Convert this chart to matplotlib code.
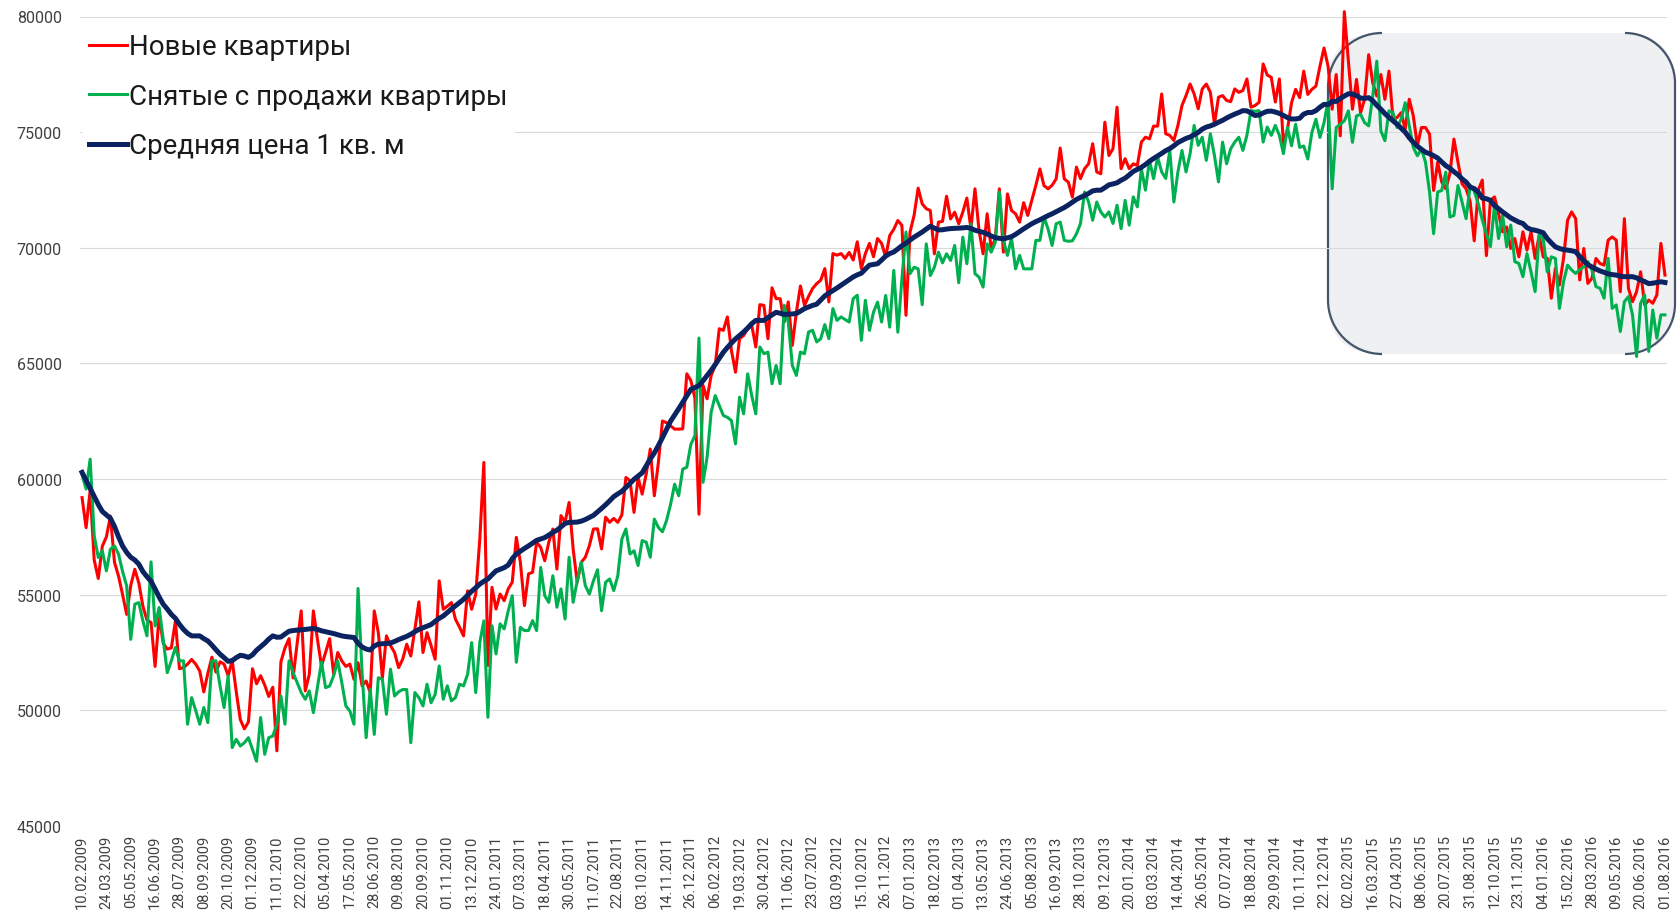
import numpy as np
import pandas as pd
import matplotlib
matplotlib.use('Agg')
import matplotlib.pyplot as plt
from matplotlib.patches import FancyBboxPatch, PathPatch
from matplotlib.path import Path
from matplotlib.transforms import Affine2D

plt.rcParams['font.family'] = ['Roboto', 'DejaVu Sans']

W, H = 1677, 912

# weekly dates (shift from tuesdays to mondays after new year 2010)
dates = list(pd.date_range('2009-02-10', '2009-12-29', freq='7D')) + \
        list(pd.date_range('2010-01-04', '2016-08-01', freq='7D'))

labels = ['Новые квартиры', 'Снятые с продажи квартиры', 'Средняя цена 1 кв. м']

new_flats = [
    59200, 57900, 59500, 56500, 55700, 57100, 57500, 58400, 56400, 55800,
    55000, 54150, 55400, 56100, 55500, 54500, 53900, 53800, 51900, 54100,
    52900, 52650, 52700, 53850, 51800, 51850, 52000, 52200, 52000, 51700,
    50800, 51600, 52300, 51650, 52100, 52000, 51500, 52150, 50800, 49600,
    49200, 49500, 51800, 51150, 51500, 51100, 50600, 51000, 48250, 52100,
    52700, 53100, 51400, 52900, 54300, 50840, 51560, 54300, 53070, 51920,
    52500, 53100, 51560, 52500, 52140, 51900, 52000, 51340, 52060, 51060,
    51270, 50770, 54300, 53360, 51410, 53220, 52800, 52500, 51850, 52210,
    52860, 52350, 53500, 54690, 52500, 53360, 52800, 52210, 55600, 54370,
    54500, 54660, 53940, 53600, 53220, 55170, 54370, 55020, 57400, 60720,
    51940, 55320, 54380, 55030, 54740, 55250, 55540, 57480, 56400, 54530,
    55900, 55970, 57270, 57050, 56470, 57270, 57840, 56110, 58420, 58130,
    58990, 56980, 55540, 56400, 56620, 57120, 57840, 57850, 56980, 58350,
    58130, 58300, 58130, 58450, 60070, 59930, 58560, 60070, 59350, 60220,
    61300, 59280, 60720, 62510, 62440, 62300, 62160, 62160, 62170, 64550,
    64260, 63500, 58480, 64050, 63470, 64480, 64910, 66500, 66430, 67010,
    65560, 64620, 66070, 66210, 66500, 66650, 65710, 67540, 67510, 66070,
    68270, 67800, 67800, 66790, 67660, 65780, 67220, 68350, 67510, 67900,
    68240, 68450, 68600, 69100, 67660, 69750, 69680, 69750, 69540, 69800,
    69470, 70260, 69100, 69750, 70190, 69610, 70400, 70190, 69600, 70530,
    70800, 71180, 70970, 67080, 70680, 71400, 72580, 71900, 71690, 71610,
    69740, 71110, 71140, 72230, 71250, 71540, 71040, 71540, 72150, 70820,
    72550, 70750, 69740, 71470, 69960, 70390, 72550, 69810, 72330, 71610,
    71470, 71110, 71950, 71400, 72050, 72700, 73410, 72690, 72550, 72700,
    72980, 74310, 72980, 72840, 72190, 73490, 72990, 73420, 73630, 74500,
    73280, 73200, 75430, 73990, 74280, 76080, 73420, 73850, 73420, 73630,
    73560, 74570, 74780, 74710, 75260, 75260, 76650, 74930, 74860, 74640,
    75290, 76150, 76580, 77080, 76650, 76010, 76870, 77080, 76720, 75360,
    76510, 76580, 76370, 76320, 76870, 76720, 76800, 77300, 76080, 76150,
    76290, 77950, 77470, 77370, 76300, 77300, 74500, 75130, 76270, 76850,
    76490, 77640, 76630, 76850, 76990, 77850, 78640, 77850, 75990, 77490,
    74840, 80210, 78070, 75990, 77280, 75840, 76420, 78350, 77130, 76560,
    77490, 76420, 77640, 75560, 75630, 75840, 75130, 76420, 75700, 74410,
    75200, 75200, 74910, 72480, 73700, 72840, 72550, 73200, 74700, 73700,
    72770, 72550, 72000, 70300, 72500, 72930, 69660, 72050, 72200, 71480,
    70690, 70900, 69970, 70400, 69610, 70690, 69900, 70690, 69540, 70550,
    69610, 69540, 67820, 69110, 68390, 69540, 71190, 71550, 71260, 68610,
    69970, 68460, 68680, 69540, 69320, 69250, 70330, 70470, 70330, 68100,
    71260, 68250, 67670, 68100, 68960, 67530, 67740, 67600, 67960, 70190,
    68820,
]

removed_flats = [
    60200, 59570, 60860, 57550, 56610, 56900, 56030, 56970, 57110, 56750,
    56000, 55380, 53070, 54590, 54660, 53860, 53220, 56420, 53650, 54450,
    53070, 51630, 52140, 52720, 52140, 52140, 49400, 50550, 50000, 49400,
    50120, 49470, 52140, 52140, 51060, 50120, 51490, 48390, 48750, 48460,
    48600, 48820, 48310, 47800, 49690, 48100, 48820, 48890, 49400, 50620,
    49400, 52140, 51630, 51200, 50770, 50480, 50840, 49900, 51000, 52090,
    50980, 51050, 51500, 52140, 51200, 50190, 49970, 49400, 55270, 51630,
    48820, 50910, 48960, 51410, 51340, 49830, 51780, 50620, 50800, 50900,
    50900, 48600, 50770, 50550, 50190, 51130, 50330, 50690, 51920, 50480,
    51060, 50410, 50550, 51130, 51060, 51560, 52930, 50770, 52930, 53870,
    49700, 53660, 52440, 53740, 53520, 54300, 54960, 52080, 53590, 53450,
    53450, 53880, 53450, 56180, 54960, 54670, 55820, 54460, 55250, 53950,
    56620, 54670, 55600, 56400, 55390, 55030, 55600, 56080, 54310, 55540,
    55680, 55180, 55820, 57410, 57840, 56760, 56900, 56260, 57340, 57270,
    56620, 58270, 57910, 57720, 58200, 58900, 59780, 59280, 60430, 60510,
    61500, 61880, 66100, 59860, 60940, 62890, 63610, 63180, 62750, 62670,
    62530, 61520, 63540, 62820, 64550, 63610, 62820, 65710, 65420, 65490,
    64120, 64910, 64120, 67510, 66790, 64910, 64480, 65490, 65420, 66360,
    66430, 65930, 66070, 66680, 66070, 67370, 66860, 67010, 66900, 66790,
    67800, 67950, 66000, 67730, 66430, 67220, 67650, 66790, 67940, 66570,
    69020, 66350, 68660, 70680, 68880, 69160, 69090, 67540, 70170, 68800,
    69160, 69810, 69350, 69740, 69450, 70100, 68490, 70460, 69310, 71040,
    68880, 68730, 68300, 70170, 69810, 70240, 72410, 70320, 69670, 70420,
    69090, 69670, 69090, 69090, 69090, 70320, 70320, 71330, 70820, 70100,
    71040, 71110, 70320, 70280, 70300, 70600, 71050, 72410, 71980, 71190,
    71980, 71550, 71330, 71550, 71050, 71840, 70830, 72050, 70980, 72200,
    71770, 73420, 72490, 73780, 72990, 73920, 73280, 73000, 74210, 71980,
    73280, 74210, 73280, 74070, 75290, 74430, 74780, 73780, 74930, 73990,
    72850, 74570, 73630, 74280, 74570, 74780, 74210, 74860, 75930, 75900,
    75930, 74570, 75220, 74860, 75290, 74860, 74070, 75200, 74410, 75340,
    74340, 74400, 73840, 74980, 75560, 74770, 75410, 76350, 72550, 75200,
    75340, 75490, 75920, 74560, 75700, 75770, 75410, 75270, 76560, 78070,
    75060, 74630, 75920, 75840, 75200, 75560, 76270, 75270, 74340, 73980,
    74270, 73700, 72410, 70610, 72410, 72480, 73270, 71330, 71400, 72690,
    71970, 71260, 72700, 72450, 71900, 71200, 70600, 70050, 71840, 70400,
    71410, 70040, 70980, 69400, 69320, 68750, 69750, 68960, 68100, 70550,
    70400, 68960, 69610, 69540, 67380, 68530, 69250, 69040, 68890, 69050,
    69180, 69400, 69040, 68320, 68250, 67820, 69540, 67380, 67530, 66380,
    67670, 67890, 67100, 65300, 67600, 67960, 65520, 67310, 66090, 67100,
    67100,
]

avg_price = [
    60290, 59950, 59600, 59250, 58900, 58600, 58450, 58300, 57950, 57500,
    57100, 56830, 56620, 56500, 56320, 56000, 55780, 55580, 55250, 54900,
    54590, 54380, 54150, 53980, 53720, 53500, 53330, 53220, 53220, 53220,
    53100, 53000, 52820, 52620, 52430, 52280, 52120, 52150, 52280, 52380,
    52350, 52290, 52400, 52600, 52750, 52900, 53080, 53220, 53160, 53170,
    53300, 53420, 53450, 53470, 53480, 53500, 53520, 53540, 53500, 53440,
    53400, 53360, 53320, 53270, 53220, 53190, 53170, 53150, 52900, 52740,
    52650, 52610, 52780, 52870, 52880, 52890, 52910, 52980, 53060, 53130,
    53200, 53290, 53400, 53500, 53570, 53640, 53710, 53850, 53980, 54080,
    54230, 54380, 54520, 54660, 54800, 54980, 55150, 55300, 55460, 55580,
    55680, 55860, 56030, 56100, 56170, 56280, 56560, 56760, 56880, 57000,
    57110, 57230, 57350, 57410, 57470, 57580, 57690, 57790, 57930, 58080,
    58130, 58130, 58140, 58180, 58250, 58340, 58430, 58580, 58730, 58890,
    59060, 59240, 59360, 59470, 59640, 59810, 59990, 60130, 60270, 60570,
    60870, 61130, 61450, 61790, 62150, 62500, 62770, 63040, 63320, 63600,
    63880, 63960, 64040, 64250, 64480, 64700, 64950, 65220, 65480, 65690,
    65880, 66060, 66210, 66360, 66530, 66720, 66860, 66860, 66860, 66980,
    67100, 67210, 67170, 67120, 67130, 67140, 67160, 67260, 67370, 67440,
    67510, 67560, 67740, 67920, 68040, 68150, 68260, 68380, 68500, 68620,
    68740, 68830, 68900, 69080, 69250, 69280, 69310, 69470, 69640, 69750,
    69820, 69950, 70090, 70200, 70330, 70460, 70570, 70680, 70810, 70930,
    70850, 70770, 70780, 70810, 70830, 70840, 70850, 70860, 70880, 70840,
    70760, 70710, 70670, 70600, 70510, 70440, 70410, 70390, 70430, 70480,
    70580, 70700, 70820, 70930, 71040, 71130, 71210, 71300, 71390, 71470,
    71560, 71650, 71740, 71850, 71970, 72090, 72180, 72260, 72350, 72460,
    72490, 72490, 72600, 72720, 72760, 72810, 72920, 73010, 73150, 73300,
    73390, 73480, 73600, 73740, 73860, 73970, 74080, 74200, 74290, 74410,
    74550, 74640, 74730, 74790, 74890, 74990, 75130, 75220, 75270, 75340,
    75430, 75510, 75610, 75700, 75780, 75850, 75930, 75920, 75830, 75720,
    75740, 75830, 75900, 75910, 75870, 75810, 75720, 75630, 75570, 75570,
    75600, 75780, 75850, 75850, 75930, 76080, 76200, 76190, 76330, 76330,
    76450, 76560, 76660, 76650, 76580, 76470, 76460, 76490, 76360, 76160,
    75990, 75800, 75640, 75490, 75340, 75170, 75000, 74760, 74560, 74390,
    74260, 74130, 74070, 73980, 73880, 73710, 73550, 73440, 73290, 73160,
    72980, 72840, 72620, 72560, 72400, 72150, 72120, 72050, 71820, 71690,
    71550, 71420, 71290, 71200, 71110, 71050, 70870, 70790, 70760, 70710,
    70650, 70400, 70210, 70040, 69970, 69920, 69900, 69870, 69830, 69620,
    69440, 69270, 69170, 69080, 69000, 68940, 68870, 68840, 68820, 68770,
    68750, 68750, 68750, 68700, 68610, 68540, 68450, 68470, 68500, 68530,
    68500,
]

yticks = [45000, 50000, 55000, 60000, 65000, 70000, 75000, 80000]

x = np.arange(len(dates))
tick_pos = x[::6]
tick_labels = [dates[i].strftime('%d.%m.%Y') for i in tick_pos]

fig = plt.figure(figsize=(W / 100, H / 100), dpi=100)
ax = fig.add_axes([80 / W, 1 - 827 / H, (1667 - 80) / W, (827 - 17.5) / H])

ax.plot(x, new_flats, color='#FF0000', lw=2.2, label=labels[0], clip_on=False, zorder=3)
ax.plot(x, removed_flats, color='#00B050', lw=2.2, label=labels[1], clip_on=False, zorder=3)
ax.plot(x, avg_price, color='#0B2461', lw=3.6, label=labels[2], clip_on=False, zorder=4,
        solid_joinstyle='round')

ax.set_yticks(yticks)
ax.set_xticks(tick_pos)
ax.set_xticklabels(tick_labels, rotation=90)
ax.set_axisbelow(True)
ax.grid(axis='y', color='#D9D9D9', lw=0.8)
ax.grid(axis='x', visible=False)
for s in ax.spines.values():
    s.set_visible(False)
ax.tick_params(axis='y', length=0, pad=13, labelsize=11.5, labelcolor='#404040')
ax.tick_params(axis='x', length=0, pad=6, labelsize=10.5, labelcolor='#404040')

# highlighted region (pixel coords, y downwards)
pix = Affine2D().scale(1 / W, -1 / H).translate(0, 1) + fig.transFigure
box = FancyBboxPatch((1328, 34), 1675 - 1328, 355 - 34, boxstyle='round,pad=0,rounding_size=52',
                     transform=pix, fc='#EFF0F2', ec='none', zorder=0.2, clip_on=False)
ax.add_patch(box)


def bracket(x_line, y0, y1, r, s):
    k = 0.5523 * r
    verts = [(x_line + s * r, y0), (x_line + s * (r - k), y0), (x_line, y0 + r - k), (x_line, y0 + r),
             (x_line, y1 - r), (x_line, y1 - r + k), (x_line + s * (r - k), y1), (x_line + s * r, y1)]
    codes = [Path.MOVETO, Path.CURVE4, Path.CURVE4, Path.CURVE4,
             Path.LINETO, Path.CURVE4, Path.CURVE4, Path.CURVE4]
    return PathPatch(Path(verts, codes), transform=pix, fc='none', ec='#44546A', lw=1.6,
                     zorder=0.3, clip_on=False)


ax.add_patch(bracket(1328, 34, 355, 54, 1))
ax.add_patch(bracket(1675, 34, 355, 50, -1))

ax.set_xlim(-0.5, len(dates) - 0.5)
ax.set_ylim(45000, 80000)

leg = ax.legend(loc='upper left', bbox_to_anchor=(82 / W, 1 - 27.5 / H), bbox_transform=fig.transFigure,
                frameon=True, fancybox=False, edgecolor='none', facecolor='white', framealpha=1,
                fontsize=20, handlelength=1.38, handletextpad=0.07, labelspacing=0.81,
                borderpad=0.25, borderaxespad=0)
leg.set_zorder(5)
for t in leg.get_texts():
    t.set_color('#1A1A1A')

fig.savefig('out.png', dpi=100)
